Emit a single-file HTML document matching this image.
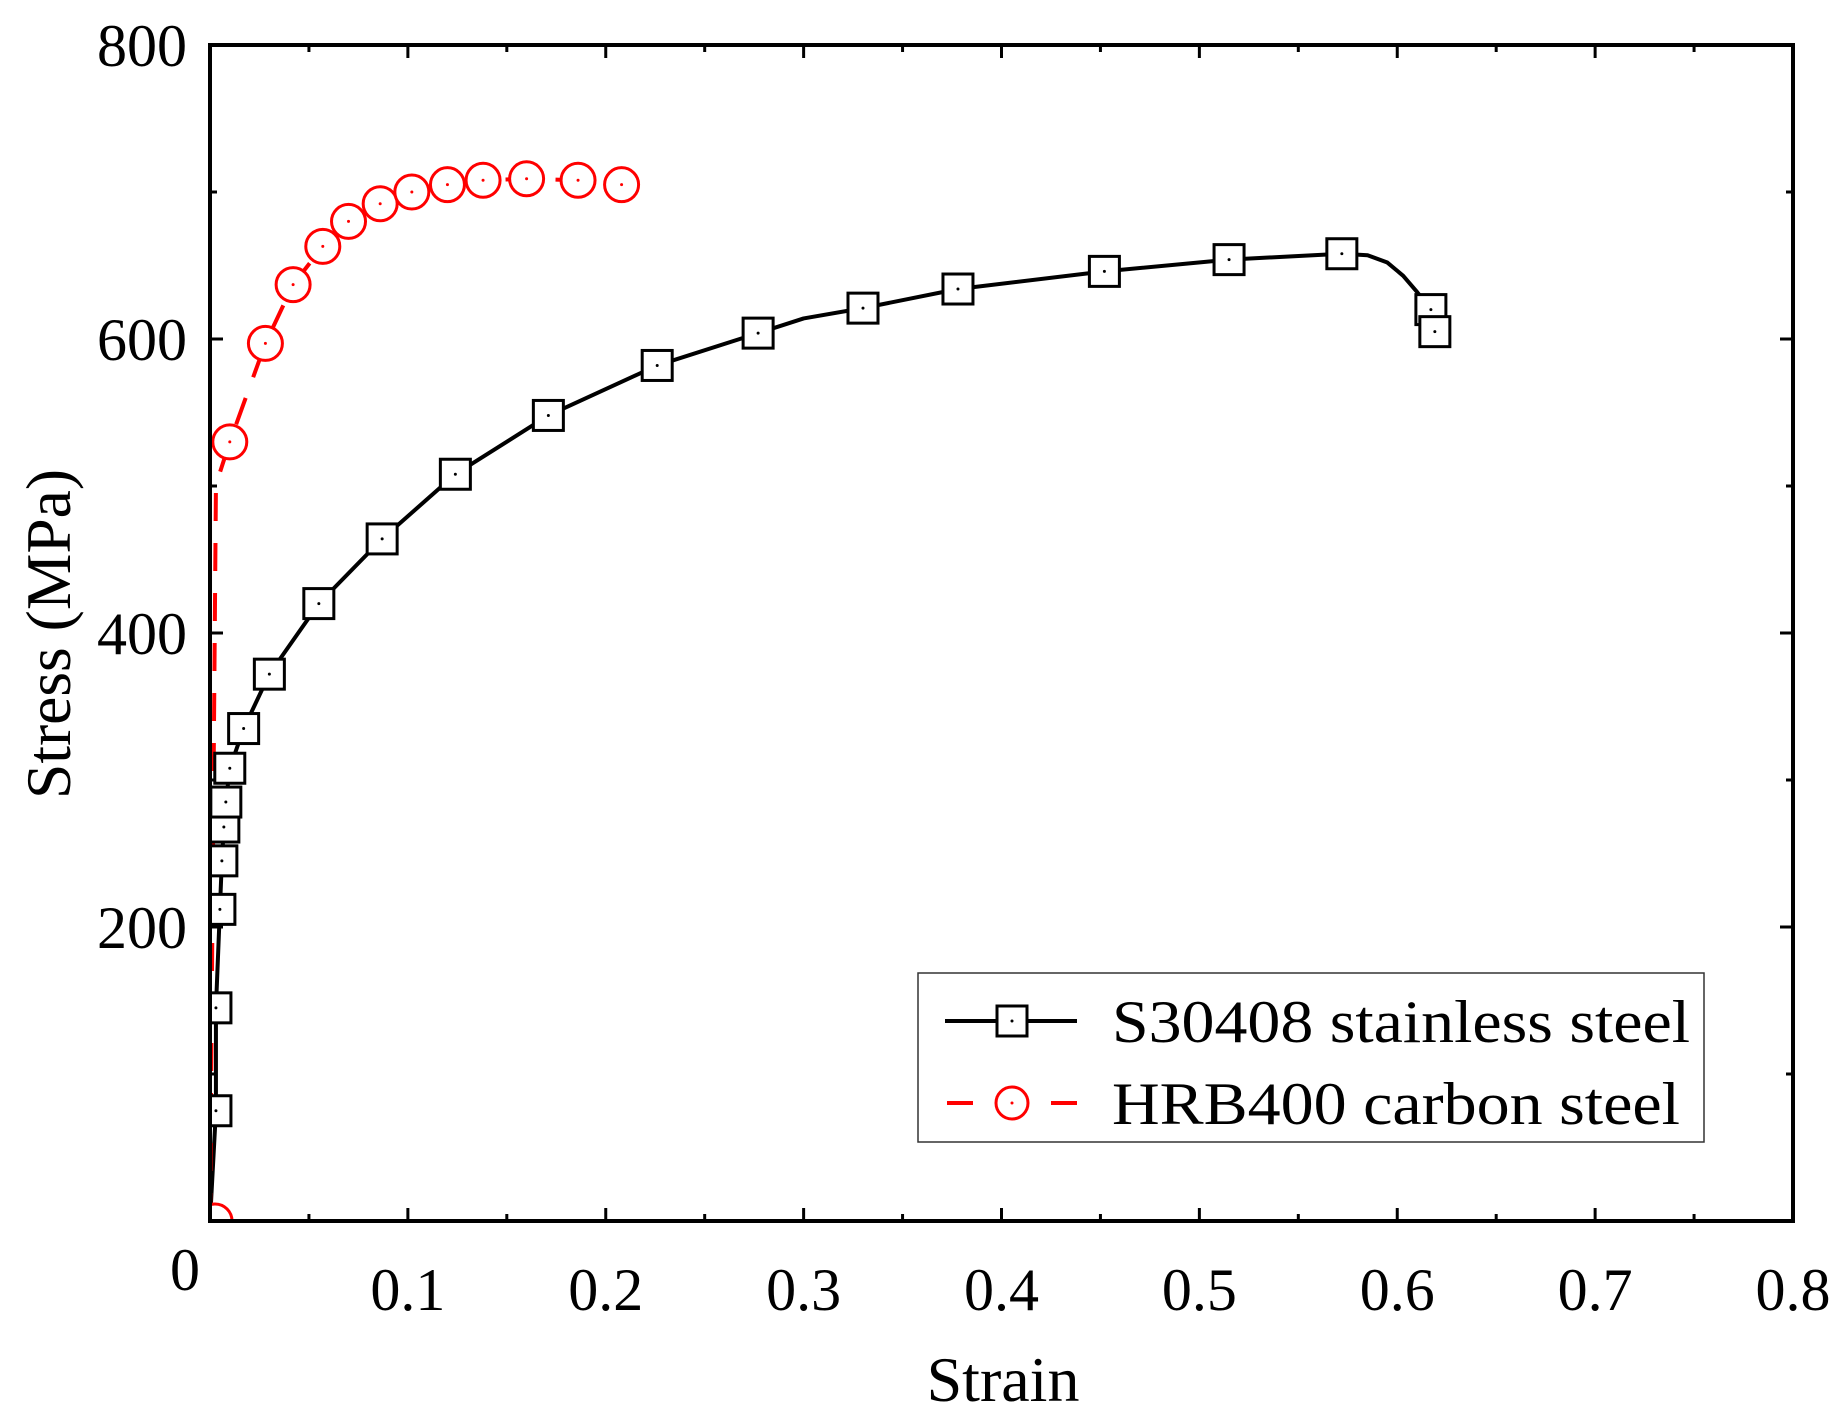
<!DOCTYPE html>
<html><head><meta charset="utf-8"><style>
body{margin:0;background:#fff}
svg text{font-family:"Liberation Serif",serif;fill:#000}
</style></head><body>
<svg id="chart" width="1840" height="1422" viewBox="0 0 1840 1422" xmlns="http://www.w3.org/2000/svg">
<g id="grid"></g><g id="series"></g>
<text x="1003" y="1401" font-size="64" text-anchor="middle">Strain</text>
<text transform="translate(70,634) rotate(-90)" font-size="64" text-anchor="middle" textLength="330" lengthAdjust="spacingAndGlyphs">Stress (MPa)</text>
<g>
<rect x="918" y="973" width="786" height="169" fill="#fff" stroke="#333" stroke-width="1.5"/>
<line x1="945" y1="1021" x2="1077" y2="1021" stroke="#000" stroke-width="4"/>
<rect x="997" y="1006" width="30" height="30" fill="#fff" stroke="#000" stroke-width="3"/>
<circle cx="1012" cy="1021" r="1.5" fill="#000"/>
<text x="1112" y="1042" font-size="60" textLength="578" lengthAdjust="spacingAndGlyphs">S30408 stainless steel</text>
<line x1="945" y1="1103" x2="1077" y2="1103" stroke="#f00" stroke-width="4" stroke-dasharray="26,26" stroke-dashoffset="-2"/>
<circle cx="1012" cy="1103" r="16" fill="#fff" stroke="#f00" stroke-width="3"/>
<circle cx="1012" cy="1103" r="1.5" fill="#f00"/>
<text x="1112" y="1124" font-size="60" textLength="568" lengthAdjust="spacingAndGlyphs">HRB400 carbon steel</text>
</g>
</svg>
<script>
const xTicks=[0,0.1,0.2,0.3,0.4,0.5,0.6,0.7,0.8];
const xTickLabels=["0","0.1","0.2","0.3","0.4","0.5","0.6","0.7","0.8"];
const yTicks=[200,400,600,800];
const yTickLabels=["200","400","600","800"];
const ssStrain=[0,0.003,0.003,0.005,0.006,0.007,0.008,0.010,0.017,0.030,0.055,0.087,0.124,0.171,0.226,0.277,0.300,0.330,0.378,0.452,0.515,0.572,0.585,0.595,0.603,0.610,0.617,0.619];
const ssStress=[0,75,145,212,245,268,285,308,335,372,420,464,508,548,582,604,614,621,634,646,654,658,657,652,643,632,620,605];
const ssMarkerIdx=[1,2,3,4,5,6,7,8,9,10,11,12,13,14,15,17,18,19,20,21,26,27];
const csStrain=[0,0.003,0.004,0.010,0.028,0.042,0.057,0.070,0.086,0.102,0.120,0.138,0.160,0.186,0.208];
const csStress=[0,500,505,530,597,637,663,680,692,700,705,708,709,708,705];
const csMarkerIdx=[0,3,4,5,6,7,8,9,10,11,12,13,14];
const L=210,R=1793,T=45,B=1221;
const sx=v=>L+v/0.8*(R-L), sy=v=>B-v/800*(B-T);
const NS="http://www.w3.org/2000/svg";
function mk(t,a,p){const e=document.createElementNS(NS,t);for(const k in a)e.setAttribute(k,a[k]);p.appendChild(e);return e;}
const g=document.getElementById('grid'),s=document.getElementById('series');
for(let i=0;i<=16;i++){const x=sx(i*0.05),len=i%2?7:13;
mk('line',{x1:x,y1:B,x2:x,y2:B-len,stroke:'#000','stroke-width':3},g);
mk('line',{x1:x,y1:T,x2:x,y2:T+len,stroke:'#000','stroke-width':3},g);}
for(let i=0;i<=8;i++){const y=sy(i*100),len=i%2?7:13;
mk('line',{x1:L,y1:y,x2:L+len,y2:y,stroke:'#000','stroke-width':3},g);
mk('line',{x1:R,y1:y,x2:R-len,y2:y,stroke:'#000','stroke-width':3},g);}
xTicks.forEach((v,i)=>{const t=mk('text',{x:v===0?185:sx(v),y:v===0?1290:1310,'font-size':60,'text-anchor':'middle'},g);


t.textContent=xTickLabels[i];});
yTicks.forEach((v,i)=>{const t=mk('text',{x:187,y:sy(v)+21,'font-size':60,'text-anchor':'end'},g);


t.textContent=yTickLabels[i];});
const clip=mk('clipPath',{id:'pc'},s);mk('rect',{x:L,y:T,width:R-L,height:B-T},clip);
const sg=mk('g',{'clip-path':'url(#pc)'},s);
const ssl=mk('polyline',{points:ssStrain.map((v,i)=>sx(v)+','+sy(ssStress[i])).join(' '),fill:'none',stroke:'#000','stroke-width':4,'stroke-linejoin':'round'},sg);


const csl=mk('polyline',{points:csStrain.map((v,i)=>sx(v)+','+sy(csStress[i])).join(' '),fill:'none',stroke:'#f00','stroke-width':4,'stroke-dasharray':'28,22'},sg);


ssMarkerIdx.forEach(i=>{const x=sx(ssStrain[i]),y=sy(ssStress[i]);
const r=mk('rect',{x:x-15,y:y-15,width:30,height:30,fill:'#fff',stroke:'#000','stroke-width':3},sg);


mk('circle',{cx:x,cy:y,r:1.5,fill:'#000'},sg);});
csMarkerIdx.forEach(i=>{const x=sx(csStrain[i])+(i===0?5:0),y=sy(csStress[i]);
const c=mk('circle',{cx:x,cy:y,r:17,fill:'#fff',stroke:'#f00','stroke-width':3},sg);


mk('circle',{cx:x,cy:y,r:1.5,fill:'#f00'},sg);});
mk('rect',{x:L,y:T,width:R-L,height:B-T,fill:'none',stroke:'#000','stroke-width':4},s);
</script>
</body></html>
